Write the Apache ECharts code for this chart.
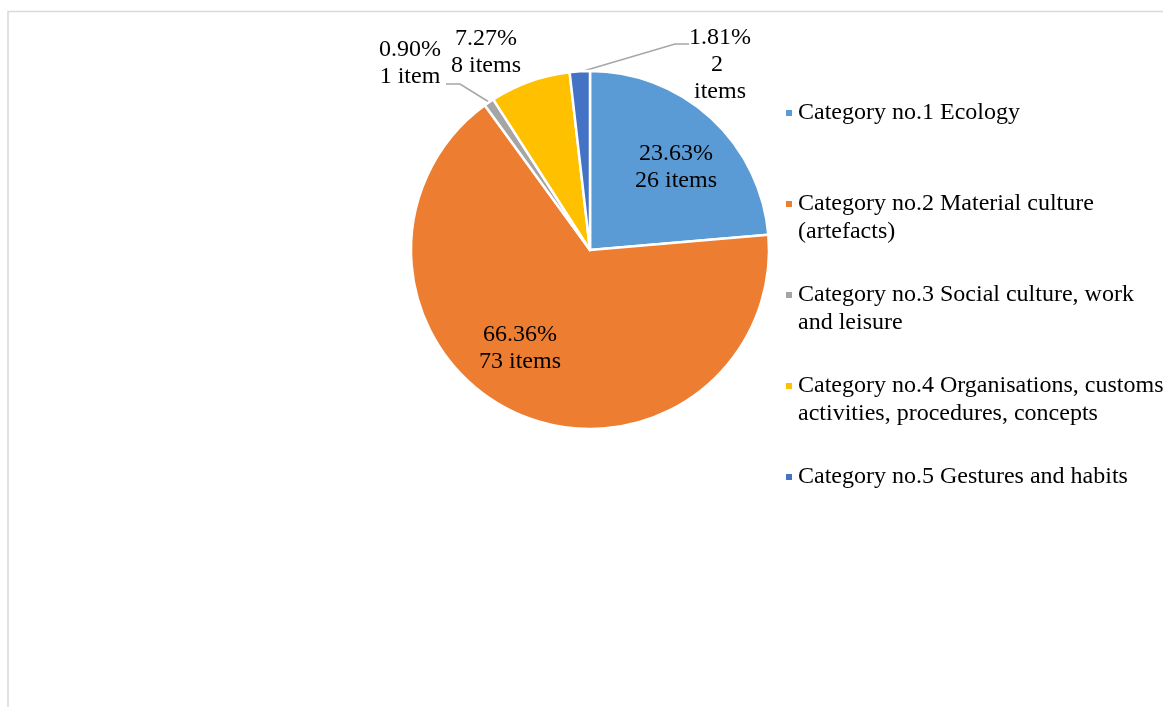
<!DOCTYPE html>
<html>
<head>
<meta charset="utf-8">
<script src="https://cdn.jsdelivr.net/npm/echarts@6/dist/echarts.min.js"></script>
<style>
html,body{margin:0;padding:0;background:#fff;}
#chart{width:1163px;height:707px;}
</style>
</head>
<body>
<div id="chart"></div>
<script>
// ---- data ----
const categories = [
  "Category no.1 Ecology",
  "Category no.2 Material culture (artefacts)",
  "Category no.3 Social culture, work and leisure",
  "Category no.4 Organisations, customs activities, procedures, concepts",
  "Category no.5 Gestures and habits"
];
const legendLabels = [
  "Category no.1 Ecology",
  "Category no.2 Material culture\n(artefacts)",
  "Category no.3 Social culture, work\nand leisure",
  "Category no.4 Organisations, customs\nactivities, procedures, concepts",
  "Category no.5 Gestures and habits"
];
const itemCounts = [26, 73, 1, 8, 2];
const percentLabels = ["23.63%", "66.36%", "0.90%", "7.27%", "1.81%"];
const colors = ["#5B9BD5", "#ED7D31", "#A5A5A5", "#FFC000", "#4472C4"];

// ---- label layout (text placement only) ----
const labelSpots = [
  {x: 676, y: 167, pos: 'inside'},
  {x: 520, y: 348, pos: 'inside'},
  {x: 410, y: 63, pos: 'outside', line: [[489, 102], [460, 84], [446, 84]]},
  {x: 486, y: 52, pos: 'outside', noLine: true},
  {x: 720, y: 65, pos: 'outside', line: [[580, 72], [675, 44], [689, 44]], width: 64}
];

const FONT = "'Liberation Serif', 'Times New Roman', serif";

const chart = echarts.init(document.getElementById('chart'), null, {renderer: 'canvas'});

const seriesData = categories.map((name, i) => {
  const spot = labelSpots[i];
  const label = {position: spot.pos};
  if (spot.width) { label.width = spot.width; label.overflow = 'break'; }
  const item = {name: name, value: itemCounts[i], itemStyle: {color: colors[i]}, label: label};
  if (spot.noLine) item.labelLine = {show: false};
  return item;
});

const isTwoLine = i => legendLabels[i].indexOf('\n') >= 0;
const legendData = categories.map((name, i) => ({
  name: name,
  textStyle: {padding: isTwoLine(i) ? [0, 0, 0, 0] : [28, 0, 28, 0]}
}));

chart.setOption({
  animation: false,
  backgroundColor: '#fff',
  graphic: [{
    type: 'polyline',
    shape: {points: [[8, 707], [8, 11.5], [1163, 11.5]]},
    style: {stroke: '#d9d9d9', lineWidth: 1.5, fill: null},
    silent: true
  }],
  legend: {
    orient: 'vertical',
    left: 784,
    top: 71,
    padding: 0,
    itemGap: 7,
    itemWidth: 8,
    itemHeight: 8,
    icon: 'rect',
    selectedMode: false,
    data: legendData,
    formatter: name => {
      const i = categories.indexOf(name);
      // leading blank line keeps the marker level with the first text line
      return isTwoLine(i) ? '\n' + legendLabels[i] : legendLabels[i];
    },
    textStyle: {fontFamily: FONT, fontSize: 24, lineHeight: 28, color: '#000'}
  },
  series: [{
    type: 'pie',
    center: [590, 250],
    radius: 179,
    startAngle: 90,
    clockwise: true,
    avoidLabelOverlap: false,
    itemStyle: {borderColor: '#fff', borderWidth: 2.5},
    emphasis: {disabled: true},
    label: {
      show: true,
      fontFamily: FONT,
      fontSize: 24,
      lineHeight: 27,
      color: '#000',
      align: 'center',
      formatter: p => percentLabels[p.dataIndex] + '\n' + p.value + (p.value === 1 ? ' item' : ' items')
    },
    labelLine: {show: true, lineStyle: {color: '#A6A6A6', width: 1.5}},
    labelLayout: p => {
      const s = labelSpots[p.dataIndex];
      const o = {x: s.x, y: s.y, align: 'center', verticalAlign: 'middle'};
      if (s.line) o.labelLinePoints = s.line;
      return o;
    },
    data: seriesData
  }]
});
</script>
</body>
</html>
